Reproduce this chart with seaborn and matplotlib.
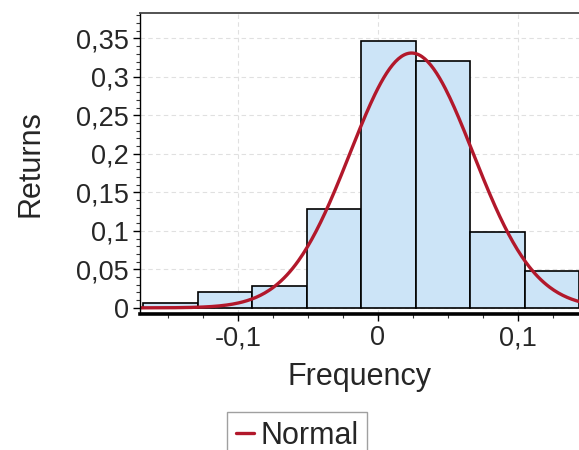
import numpy as np
import pandas as pd
import matplotlib
matplotlib.use('Agg')
import matplotlib.pyplot as plt
from matplotlib.ticker import MultipleLocator, FuncFormatter
import seaborn as sns

# Histogram bins (edges) and bar heights
bin_edges = [-0.1676, -0.1287, -0.0898, -0.0509, -0.0120, 0.0269, 0.0658, 0.1047, 0.1436]
bar_heights = [0.006, 0.020, 0.028, 0.129, 0.346, 0.321, 0.098, 0.048]

# Fitted normal curve parameters (peak position, spread, peak height)
normal_mu = 0.024
normal_sigma = 0.044
normal_peak = 0.331

y_ticks = [0, 0.05, 0.1, 0.15, 0.2, 0.25, 0.3, 0.35]
x_ticks = [-0.1, 0, 0.1]

bin_centers = [(a + b) / 2 for a, b in zip(bin_edges[:-1], bin_edges[1:])]
hist_df = pd.DataFrame({'x': bin_centers, 'h': bar_heights})

xs = np.linspace(-0.17, 0.1436, 300)
curve_df = pd.DataFrame({'x': xs,
                         'y': normal_peak * np.exp(-0.5 * ((xs - normal_mu) / normal_sigma) ** 2)})

sns.set_style('white')
plt.rcParams['font.family'] = ['Liberation Sans', 'DejaVu Sans']

fig = plt.figure(figsize=(5.79, 4.5), dpi=100)
ax = fig.add_axes([0.2418, 0.3022, 0.7582, 0.6689])

sns.histplot(data=hist_df, x='x', weights='h', bins=bin_edges, stat='count',
             color='#cce4f7', edgecolor='black', linewidth=1.2, alpha=1, ax=ax)
sns.lineplot(data=curve_df, x='x', y='y', color='#b2182b', linewidth=2.4,
             label='Normal', ax=ax)

ax.set_xlim(-0.17, 0.1436)
ax.set_ylim(-0.008, 0.383)
ax.set_xticks(x_ticks)
ax.set_yticks(y_ticks)
ax.xaxis.set_minor_locator(MultipleLocator(0.025))
ax.yaxis.set_minor_locator(MultipleLocator(0.01))
fmt = FuncFormatter(lambda v, p: ('%g' % round(v, 3)).replace('.', ','))
ax.xaxis.set_major_formatter(fmt)
ax.yaxis.set_major_formatter(fmt)
ax.tick_params(which='major', direction='out', length=5, width=1, labelsize=19.5,
               pad=3, color='black', bottom=True, left=True)
ax.tick_params(which='minor', direction='out', length=3, width=0.8,
               color='#333333', bottom=True, left=True)

ax.grid(True, which='major', color='#e0e0e0', linestyle=(0, (4, 3)), linewidth=0.8)
ax.set_axisbelow(True)

ax.spines['right'].set_visible(False)
ax.spines['bottom'].set_linewidth(2.6)
ax.spines['bottom'].set_color('black')
ax.spines['left'].set_linewidth(1.0)
ax.spines['left'].set_color('black')
ax.spines['top'].set_linewidth(1.3)
ax.spines['top'].set_color('#444444')

ax.set_xlabel('Frequency', fontsize=22, labelpad=8)
ax.set_ylabel('Returns', fontsize=22, labelpad=22)

handles, labels = ax.get_legend_handles_labels()
if ax.get_legend() is not None:
    ax.get_legend().remove()
fig.legend(handles, labels, loc='upper center', bbox_to_anchor=(0.513, 0.085),
           fontsize=22, frameon=True, fancybox=False, edgecolor='#888888',
           handlelength=0.6, handletextpad=0.2, borderpad=0.3,
           borderaxespad=0)

fig.savefig('out.png', dpi=100)
